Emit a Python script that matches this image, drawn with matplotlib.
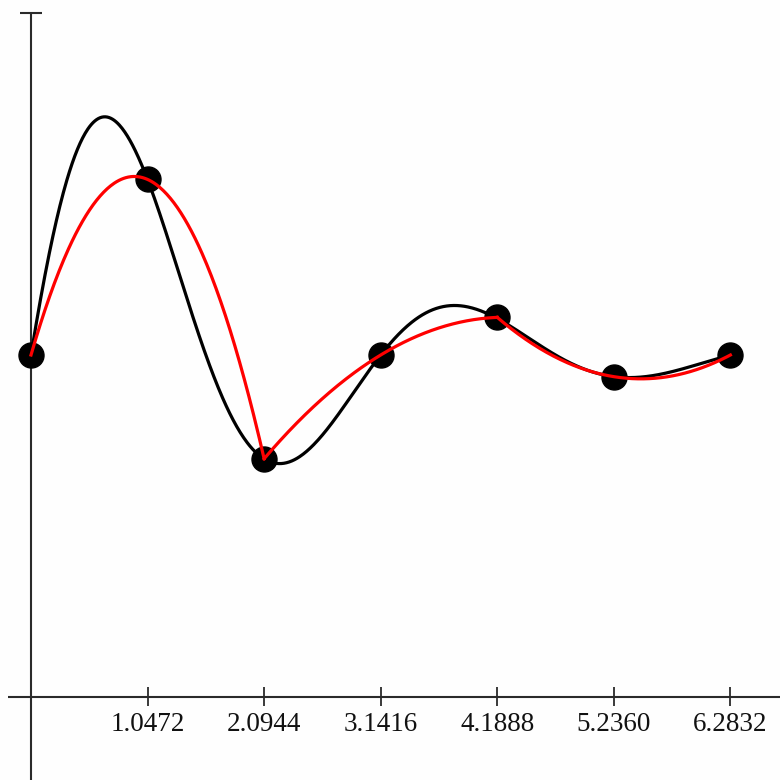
import numpy as np
import matplotlib
matplotlib.use("Agg")
import matplotlib.pyplot as plt

# Simpson's rule on f(x) = 3 e^(-x/2) sin(2x) over [0, 2*pi] with 6 sub-intervals
AMP = 3.0
DECAY = 0.5
FREQ = 2.0

nodes_x = [0.0, 1.0472, 2.0944, 3.1416, 4.1888, 5.2360, 6.2832]
nodes_y = [0.0, 1.54, -0.91, 0.0, 0.33, -0.19, 0.0]
tick_labels = ["1.0472", "2.0944", "3.1416", "4.1888", "5.2360", "6.2832"]

AXIS_Y = -3.0   # level where the horizontal axis is drawn
Y_TOP = 3.0     # top of the vertical axis


def f(x):
    return AMP * np.exp(-DECAY * x) * np.sin(FREQ * x)


fig = plt.figure(figsize=(7.8, 7.8), dpi=100)
fig.patch.set_facecolor("#fefefe")
ax = fig.add_axes([0, 0, 1, 1])
ax.set_facecolor("#fefefe")
ax.set_xlim(-0.2785, 6.729)
ax.set_ylim(-3.728, 3.114)
ax.axis("off")

axis_col = "#2a2a2a"
# horizontal axis
ax.plot([-0.21, 6.8], [AXIS_Y, AXIS_Y], color=axis_col, lw=1.5, zorder=1,
        solid_capstyle="butt")
# vertical axis with a cap at the top
ax.plot([0, 0], [-3.8, Y_TOP], color=axis_col, lw=1.5, zorder=1,
        solid_capstyle="butt")
ax.plot([-0.1, 0.1], [Y_TOP, Y_TOP], color=axis_col, lw=1.5, zorder=1,
        solid_capstyle="butt")

# tick marks and labels
for xv, lab in zip(nodes_x[1:], tick_labels):
    ax.plot([xv, xv], [AXIS_Y - 0.08, AXIS_Y + 0.09], color=axis_col, lw=1.3,
            zorder=1, solid_capstyle="butt")
    ax.text(xv, AXIS_Y - 0.245, lab, ha="center", va="center",
            fontsize=19.5, family="Liberation Serif", color="#111111")

# the integrand
xs = np.linspace(0, nodes_x[-1], 800)
ax.plot(xs, f(xs), color="black", lw=2.3, zorder=2)

# sample points
ax.plot(nodes_x, nodes_y, "o", color="black", markersize=18, zorder=3)

# Simpson parabolas through each triple of nodes
nx = np.array(nodes_x)
ny = np.array(nodes_y)
for i in range(0, len(nx) - 1, 2):
    px, py = nx[i:i + 3], ny[i:i + 3]
    coef = np.polyfit(px, py, 2)
    seg = np.linspace(px[0], px[-1], 200)
    ax.plot(seg, np.polyval(coef, seg), color="#ff0000", lw=2.3, zorder=4)

fig.savefig("out.png", dpi=100, facecolor=fig.get_facecolor())
